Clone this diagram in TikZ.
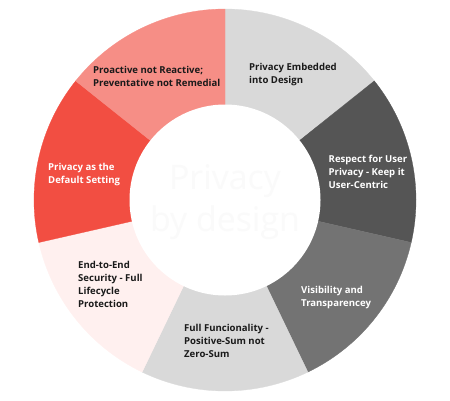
\documentclass[tikz,border=0pt]{standalone}
\usepackage{fontspec}
\setmainfont{Open Sans}
\usepackage{tikz}
\definecolor{ink}{HTML}{1A1A1A}
\definecolor{paleg}{HTML}{D9D9D9}
\definecolor{darkg}{HTML}{555555}
\definecolor{midg}{HTML}{737373}
\definecolor{blush}{HTML}{FFF0EF}
\definecolor{coral}{HTML}{F24E42}
\definecolor{salmon}{HTML}{F68E86}
\definecolor{ghost}{HTML}{FAFAFA}
\tikzset{
  lab/.style={anchor=base west, align=left, inner sep=0pt, text=ink,
    font=\bfseries\fontsize{9.6}{13}\selectfont},
  labw/.style={lab, text=white},
  hub/.style={align=center, inner sep=0pt, text=ghost,
    font=\fontsize{34}{42}\selectfont},
}

\begin{document}
\begin{tikzpicture}[x=1bp,y=1bp]
  \useasboundingbox (0,0) rectangle (450,400);
  \coordinate (C) at (225,200);

  \foreach \col [count=\i from 0] in {paleg,darkg,midg,paleg,blush,coral,salmon}{
    \pgfmathsetmacro{\a}{90-\i*360/7}
    \pgfmathsetmacro{\b}{\a-360/7}
    \fill[\col, draw=\col, line width=0.3pt] (C) -- ++(\a:191bp)
      arc[start angle=\a, end angle=\b, radius=191bp] -- cycle;
  }
  \fill[white] (C) circle[radius=95.5bp];

  \node[hub] (core) at (225,198) {Privacy\\by design};

  % base anchor sits on the last line
  \node[lab] (embed) at (249,316.3) {Privacy Embedded\\into Design};
  \node[labw] (respect) at (328.5,211.4) {Respect for User\\Privacy - Keep it\\User-Centric};
  \node[labw] (visib) at (301,93.5) {Visibility and\\Transparencey};
  \node[lab] (fullfn) at (184,42.5) {Full Funcionality -\\Positive-Sum not\\Zero-Sum};
  \node[lab] (endend) at (78,92.5) {End-to-End\\Security - Full\\Lifecycle\\Protection};
  \node[labw] (default) at (48,216.5) {Privacy as the\\Default Setting};
  \node[lab] (proact) at (93,313.5) {Proactive not Reactive;\\Preventative not Remedial};
\end{tikzpicture}
\end{document}
